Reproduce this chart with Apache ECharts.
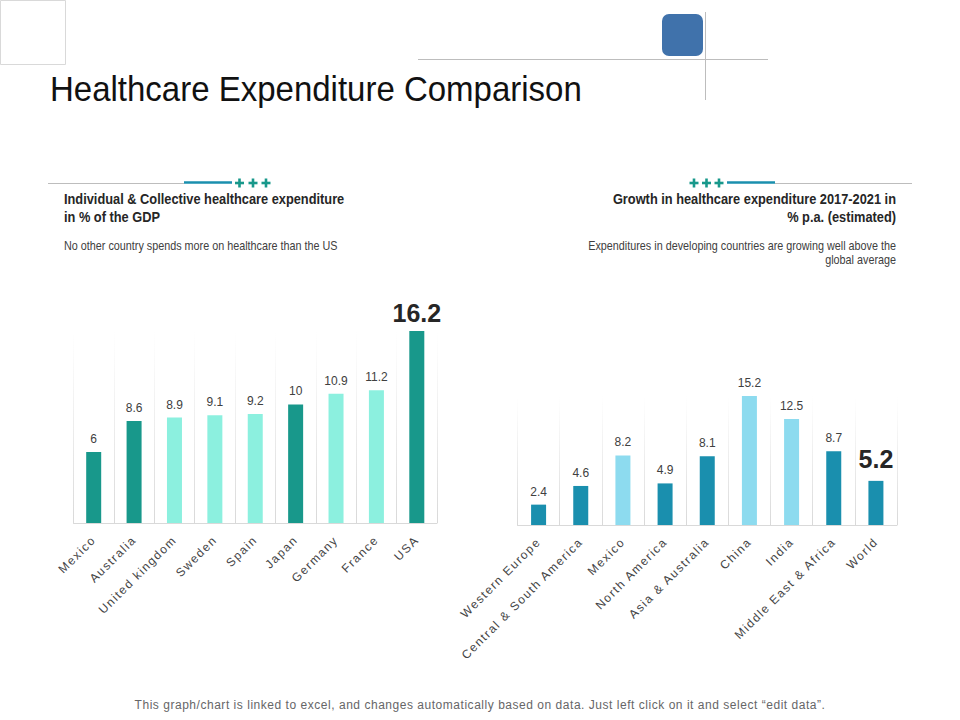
<!DOCTYPE html>
<html><head><meta charset="utf-8">
<style>html,body{margin:0;padding:0;background:#fff}#c{width:960px;height:720px}
svg text[fill="#444445"]{letter-spacing:1.5px}
svg text[fill="#666667"]{letter-spacing:.53px}
</style>
<script src="https://cdn.jsdelivr.net/npm/echarts@6/dist/echarts.min.js"></script></head>
<body><div id="c"></div><script>
const leftCategories=['Mexico','Australia','United kingdom','Sweden','Spain','Japan','Germany','France','USA'];
const leftValues=[6,8.6,8.9,9.1,9.2,10,10.9,11.2,16.2];
const leftDark=['Mexico','Australia','Japan','USA'];
const rightCategories=['Western Europe','Central & South America','Mexico','North America','Asia & Australia','China','India','Middle East & Africa','World'];
const rightValues=[2.4,4.6,8.2,4.9,8.1,15.2,12.5,8.7,5.2];
const rightLight=['Mexico','China','India'];
const leftBigLabel='USA', rightBigLabel='World';

const SANS='"Liberation Sans",Arial,sans-serif';
function plus(cx,cy){return [
 {type:'rect',shape:{x:cx-4.5,y:cy-1.3,width:9,height:2.6},style:{fill:'#18988B'}},
 {type:'rect',shape:{x:cx-1.3,y:cy-4.5,width:2.6,height:9},style:{fill:'#18988B'}}];}
function line(x1,y1,x2,y2,c,w){return {type:'line',shape:{x1,y1,x2,y2},style:{stroke:c,lineWidth:w}};}
function txt(x,y,t,size,weight,fill,align,sx){return {type:'text',x,y,scaleX:sx||1,style:{text:t,font:(weight||'normal')+' '+size+'px '+SANS,fill,align:align||'left',verticalAlign:'middle'}};}
const deco=[
 {type:'rect',shape:{x:.5,y:.5,width:65,height:64},style:{fill:'#fff',stroke:'#d9d9d9',lineWidth:1}},
 {type:'rect',shape:{x:662,y:14,width:41,height:42,r:7},style:{fill:'#4072AB'}},
 line(418,59.5,768,59.5,'#bdbdbd',1),line(705.5,12,705.5,100,'#bdbdbd',1),
 txt(50,88,'Healthcare Expenditure Comparison',36,'normal','#111111','left',.917),
 line(48,183.5,184,183.5,'#bdbdbd',1),line(775,183.5,912,183.5,'#bdbdbd',1),
 line(184,182.5,232,182.5,'#1A8FAE',2.6),line(727,182.5,775,182.5,'#1A8FAE',2.6),
 ...plus(239.5,183),...plus(253,183),...plus(266,183),
 ...plus(694,183),...plus(706.5,183),...plus(719,183),
 txt(64,199,'Individual & Collective healthcare expenditure',14,'bold','#262626','left',.915),
 txt(64,217,'in % of the GDP',14,'bold','#262626','left',.915),
 txt(64,246,'No other country spends more on healthcare than the US',12,'normal','#404040','left',.9),
 txt(896,199,'Growth in healthcare expenditure 2017-2021 in',14,'bold','#262626','right',.915),
 txt(896,217,'% p.a. (estimated)',14,'bold','#262626','right',.915),
 txt(896,246,'Expenditures in developing countries are growing well above the',12,'normal','#404040','right',.9),
 txt(896,260,'global average',12,'normal','#404040','right',.9),
 txt(480,705,'This graph/chart is linked to excel, and changes automatically based on data. Just left click on it and select \u201cedit data\u201d.',12,'normal','#666667','center')
];
function vgrad(y1,y2){return {type:'linear',x:0,y:y1,x2:0,y2:y2,global:true,colorStops:[{offset:0,color:'rgba(217,217,217,0)'},{offset:.12,color:'rgba(217,217,217,.1)'},{offset:1,color:'rgba(217,217,217,1)'}]};}
function xAxis(i,cats,y1,y2){return {type:'category',gridIndex:i,data:cats,
 axisLine:{show:true,lineStyle:{color:'#d9d9d9',width:1}},axisTick:{show:false},
 splitLine:{show:true,interval:0,lineStyle:{color:vgrad(y1,y2),width:1}},
 axisLabel:{interval:0,rotate:45,margin:15,fontFamily:SANS,fontSize:12,color:'#444445'}};}
function yAxis(i,max){return {type:'value',gridIndex:i,min:0,max,show:false,splitLine:{show:false}};}
function items(cats,vals,colorOf,big,dist){return vals.map((v,i)=>{
 const isBig=cats[i]===big;
 return {value:v,itemStyle:{color:colorOf(cats[i])},label:isBig?{fontSize:25,fontWeight:'bold',color:'#262626',distance:dist,fontFamily:SANS}:{}};
});}
const chart=echarts.init(document.getElementById('c'),null,{renderer:'svg',width:960,height:720});
const lab={show:true,position:'top',distance:7,fontFamily:SANS,fontSize:12,color:'#404040'};
chart.setOption({animation:false,backgroundColor:'#fff',
 grid:[{left:73.5,top:331,width:363.5,height:192},{left:517.5,top:396,width:379.5,height:129}],
 xAxis:[xAxis(0,leftCategories,331,523),xAxis(1,rightCategories,396,525)],
 yAxis:[yAxis(0,Math.max(...leftValues)),yAxis(1,Math.max(...rightValues))],
 series:[
  {type:'bar',xAxisIndex:0,yAxisIndex:0,barWidth:15,label:lab,silent:true,
   data:items(leftCategories,leftValues,c=>leftDark.includes(c)?'#18988B':'#8CF0DF',leftBigLabel,6)},
  {type:'bar',xAxisIndex:1,yAxisIndex:1,barWidth:15,label:lab,silent:true,
   data:items(rightCategories,rightValues,c=>rightLight.includes(c)?'#8DDBEF':'#1A8FAE',rightBigLabel,9)}
 ],
 graphic:{elements:deco.map(d=>Object.assign({silent:true},d))}
});
</script></body></html>
